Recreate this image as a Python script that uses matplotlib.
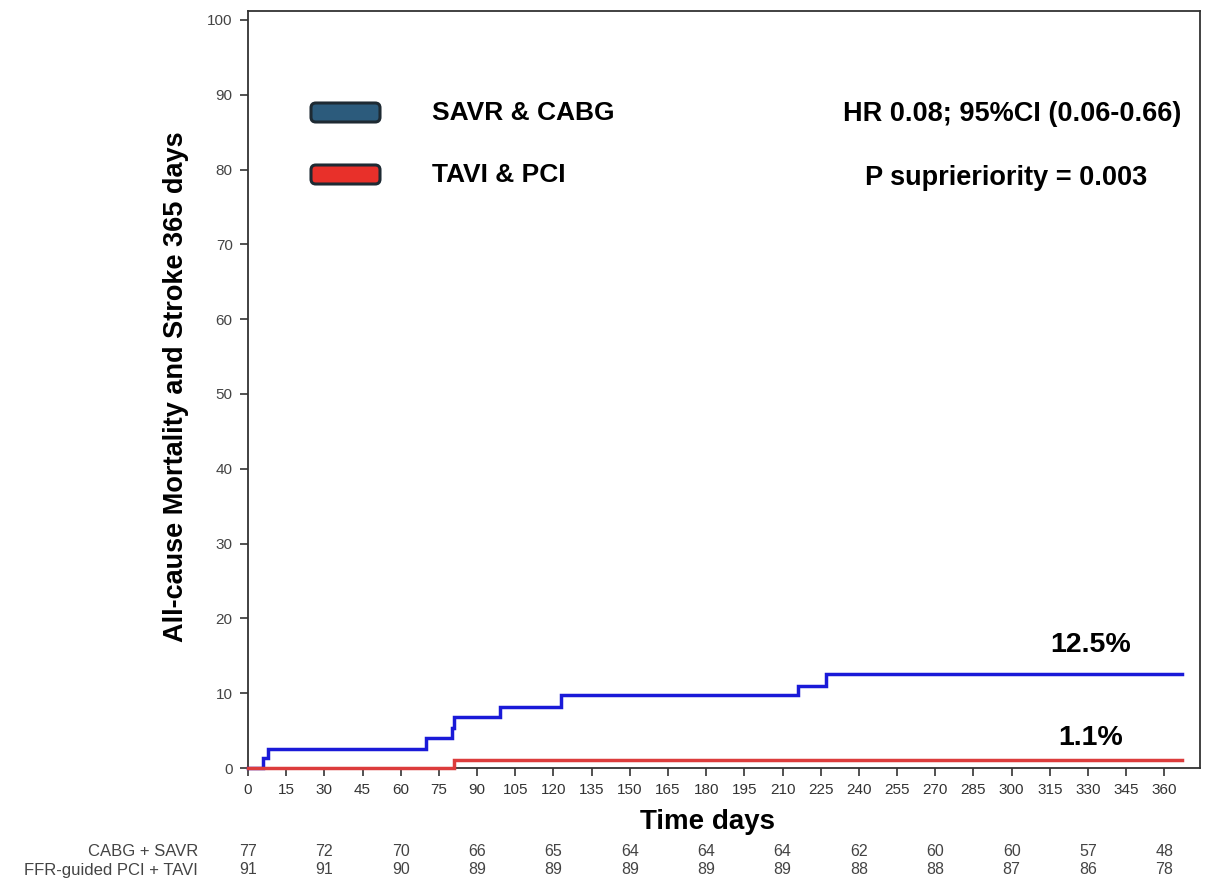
import matplotlib
matplotlib.use("Agg")
import matplotlib.pyplot as plt
from matplotlib.patches import FancyBboxPatch
import matplotlib.transforms as mtransforms

plt.rcParams['font.family'] = ['Liberation Sans', 'DejaVu Sans']

# ---- data ----
savr_days = [0, 6, 8, 70, 80, 81, 99, 123, 216, 227, 367]
savr_vals = [0, 1.3, 2.6, 4.0, 5.4, 6.8, 8.2, 9.7, 11.0, 12.5, 12.5]
tavi_days = [0, 81, 367]
tavi_vals = [0, 1.1, 1.1]

risk_times = [0, 30, 60, 90, 120, 150, 180, 210, 240, 270, 300, 330, 360]
risk_savr = [77, 72, 70, 66, 65, 64, 64, 64, 62, 60, 60, 57, 48]
risk_tavi = [91, 91, 90, 89, 89, 89, 89, 89, 88, 88, 87, 86, 78]
risk_labels = ["CABG + SAVR", "FFR-guided PCI + TAVI"]

x_ticks = list(range(0, 361, 15))
y_ticks = list(range(0, 101, 10))

legend_labels = ["SAVR & CABG", "TAVI & PCI"]
legend_colors = ["#2c5b7c", "#e8302a"]
line_colors = ["#1a1ad8", "#dc3c3c"]

# ---- figure ----
W, H = 1209, 882
fig = plt.figure(figsize=(W / 100, H / 100), dpi=100)
ax = fig.add_axes([248 / W, 1 - 768 / H, (1200 - 248) / W, (768 - 11) / H])

ax.step(savr_days, savr_vals, where='post', color=line_colors[0], lw=2.5,
        solid_joinstyle='miter', zorder=3, clip_on=False)
ax.step(tavi_days, tavi_vals, where='post', color=line_colors[1], lw=2.5,
        solid_joinstyle='miter', zorder=3, clip_on=False)

ax.set_xlim(0, 374)
ax.set_ylim(0, 101.2)
ax.set_xticks(x_ticks)
ax.set_yticks(y_ticks)
ax.tick_params(axis='both', direction='out', length=6, width=1.2, color='#333333')
ax.tick_params(axis='x', labelsize=11, labelcolor='#333333', pad=5)
ax.tick_params(axis='y', labelsize=11, labelcolor='#444444', pad=5)
for s in ax.spines.values():
    s.set_linewidth(1.3)
    s.set_color('#333333')

ax.set_xlabel("Time days", fontsize=20, fontweight='bold')
ax.xaxis.label.set_va('center')
ax.xaxis.set_label_coords((708 - 248) / 952, (768 - 822) / 757)
ax.set_ylabel("All-cause Mortality and Stroke 365 days", fontsize=19.5,
              fontweight='bold')
ax.yaxis.label.set_va('center')
ax.yaxis.set_label_coords((176 - 248) / 952, (768 - 387) / 757)

# legend boxes
for i, (lab, col) in enumerate(zip(legend_labels, legend_colors)):
    ytop = [103, 165][i]
    p = FancyBboxPatch((311 / W, 1 - (ytop + 19) / H), 69 / W, 19 / H,
                       boxstyle="round,pad=0,rounding_size=0.004",
                       mutation_aspect=W / H,
                       transform=fig.transFigure, facecolor=col,
                       edgecolor='#1e2a33', lw=2.2)
    fig.patches.append(p)
    fig.text(432 / W, 1 - (ytop + 9.5) / H, lab, fontsize=19, fontweight='bold',
             va='center', ha='left')

fig.text(1181 / W, 1 - 114 / H, "HR 0.08; 95%CI (0.06-0.66)", fontsize=19.5,
         fontweight='bold', ha='right', va='center')
fig.text(1006 / W, 1 - 178 / H, "P suprieriority = 0.003", fontsize=19.5,
         fontweight='bold', ha='center', va='center')

ax.text(331, 16.4, "12.5%", fontsize=20.5, fontweight='bold', ha='center', va='center')
ax.text(331, 4.0, "1.1%", fontsize=20.5, fontweight='bold', ha='center', va='center')

# risk table
trans = mtransforms.blended_transform_factory(ax.transData, fig.transFigure)
for t, a, b in zip(risk_times, risk_savr, risk_tavi):
    ax.text(t, 1 - 851 / H, str(a), transform=trans, ha='center', va='center',
            fontsize=11.5, color='#444444', clip_on=False)
    ax.text(t, 1 - 870 / H, str(b), transform=trans, ha='center', va='center',
            fontsize=11.5, color='#444444', clip_on=False)
fig.text(198 / W, 1 - 851 / H, risk_labels[0], ha='right', va='center',
         fontsize=12, color='#444444')
fig.text(198 / W, 1 - 870 / H, risk_labels[1], ha='right', va='center',
         fontsize=12, color='#444444')

fig.savefig("out.png", dpi=100, facecolor='white')
